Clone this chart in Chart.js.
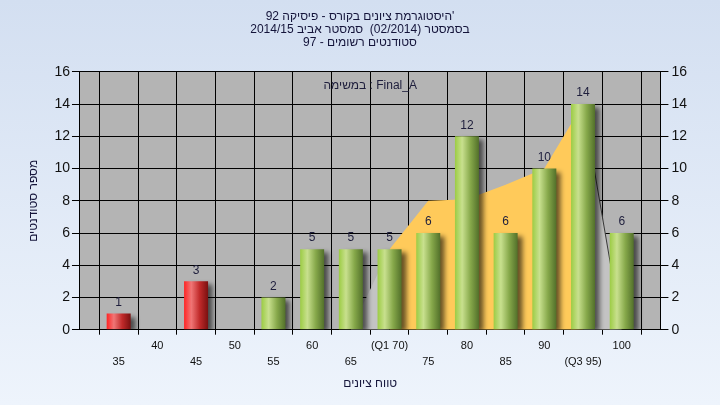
<!DOCTYPE html>
<html>
<head>
<meta charset="utf-8">
<script src="https://cdn.jsdelivr.net/npm/chart.js@4.4.0/dist/chart.umd.min.js"></script>
<style>
    html, body { margin: 0; padding: 0; background: #e4edf9; }
    canvas { display: block; }
</style>
</head>
<body>
<canvas id="gradesCanvas" width="720" height="405" dir="rtl"></canvas>
<script>
// Grade buckets and students per bucket
const grades = ['35', '40', '45', '50', '55', '60', '65', '(Q1 70)', '75', '80', '85', '90', '(Q3 95)', '100'];
const gradeValues = [35, 40, 45, 50, 55, 60, 65, 70, 75, 80, 85, 90, 95, 100];
const students = [1, 0, 3, 0, 2, 5, 5, 5, 6, 12, 6, 10, 14, 6];

// Quartile band (yellow) and whisker band (light grey)
const quartileBand = [null, null, null, null, null, null, null, 5, 8, 8.1, 9, 10, 14, null];
const whiskerBand = [null, null, null, null, null, null, 0, 5, null, null, null, null, 14, 0];

const yMax = 16;
const yStep = 2;
const passMark = 55;

const titleLines = [
    "'היסטוגרמת ציונים בקורס - פיסיקה 92",
    'בסמסטר (02/2014)  סמסטר אביב 2014/15',
    'סטודנטים רשומים - 97'
];
const taskLabel = 'במשימה : Final_A';
const xTitle = 'טווח ציונים';
const yTitle = 'מספר סטודנטים';

// Pad with an empty slot on each side (the plot leaves a full bucket of room)
const pad = arr => [null, ...arr, null];
const labels = ['', ...grades, ''].map((g, i) => {
    if (g === '') return ['', ''];
    return (i % 2 === 1) ? ['', g] : [g, ''];
});

const FONT = "'Liberation Sans', 'DejaVu Sans Condensed', 'DejaVu Sans', sans-serif";

// Cylinder-like horizontal gradient for each bar
function barGradient(context) {
    const chart = context.chart;
    const {ctx, chartArea, scales} = chart;
    const i = context.dataIndex;
    const grade = gradeValues[i - 1];
    const red = grade < passMark;
    if (!chartArea || grade === undefined) return red ? '#e02020' : '#9cc84a';
    const step = scales.x.getPixelForValue(1) - scales.x.getPixelForValue(0);
    const cx = scales.x.getPixelForValue(i);
    const half = step * 0.62 / 2;
    const g = ctx.createLinearGradient(cx - half, 0, cx + half, 0);
    if (red) {
        g.addColorStop(0, '#ff2424');
        g.addColorStop(0.3, '#f07676');
        g.addColorStop(0.65, '#c02a2a');
        g.addColorStop(1, '#7a1010');
    } else {
        g.addColorStop(0, '#9ccc44');
        g.addColorStop(0.3, '#c8e08e');
        g.addColorStop(0.65, '#86a84a');
        g.addColorStop(1, '#52702a');
    }
    return g;
}

// Background, plot area fill, bar shadows, value labels, task note
const decorPlugin = {
    id: 'decor',
    beforeDraw(chart) {
        const {ctx, chartArea, width, height} = chart;
        ctx.save();
        const bg = ctx.createLinearGradient(0, 0, 0, height);
        bg.addColorStop(0, '#d3dff1');
        bg.addColorStop(1, '#eef4fc');
        ctx.fillStyle = bg;
        ctx.fillRect(0, 0, width, height);
        ctx.fillStyle = '#b4b4b4';
        ctx.fillRect(chartArea.left, chartArea.top, chartArea.right - chartArea.left, chartArea.bottom - chartArea.top);
        ctx.restore();
    },
    beforeDatasetDraw(chart, args) {
        if (args.meta.type !== 'bar') return;
        const ctx = chart.ctx;
        ctx.save();
        ctx.shadowColor = 'rgba(0, 0, 0, 0.6)';
        ctx.shadowBlur = 5;
        ctx.shadowOffsetX = 5;
        ctx.shadowOffsetY = 3;
    },
    afterDatasetDraw(chart, args) {
        if (args.meta.type !== 'bar') return;
        chart.ctx.restore();
    },
    afterDatasetsDraw(chart) {
        const ctx = chart.ctx;
        const meta = chart.getDatasetMeta(0);
        ctx.save();
        ctx.font = '12px ' + FONT;
        ctx.fillStyle = '#1e1e3c';
        ctx.textAlign = 'center';
        ctx.textBaseline = 'middle';
        meta.data.forEach((bar, i) => {
            const v = chart.data.datasets[0].data[i];
            if (!v) return;
            ctx.fillText(String(v), bar.x, bar.y - 11);
        });
        // the task note is laid out left to right
        const area = chart.chartArea;
        ctx.direction = 'ltr';
        ctx.fillText(taskLabel, (area.left + area.right) / 2, area.top + 14);
        ctx.restore();
    }
};

const ctx = document.getElementById('gradesCanvas');

new Chart(ctx, {
    type: 'bar',
    data: {
        labels: labels,
        datasets: [
            {
                type: 'bar',
                label: 'students',
                data: pad(students),
                backgroundColor: barGradient,
                borderWidth: 0,
                barPercentage: 0.62,
                categoryPercentage: 1,
                order: 0
            },
            {
                type: 'line',
                label: 'quartiles',
                data: pad(quartileBand),
                backgroundColor: '#ffca5a',
                borderWidth: 0,
                pointRadius: 0,
                fill: 'origin',
                tension: 0,
                order: 1
            },
            {
                type: 'line',
                label: 'whiskers',
                data: pad(whiskerBand),
                backgroundColor: '#c3c3c3',
                borderWidth: 1,
                borderColor: '#3a3a3a',
                segment: {
                    borderColor: c => c.p0DataIndex >= 13 ? '#3a3a3a' : 'rgba(0,0,0,0)'
                },
                pointRadius: 0,
                fill: 'origin',
                tension: 0,
                order: 2
            }
        ]
    },
    options: {
        responsive: false,
        animation: false,
        devicePixelRatio: 1,
        layout: {
            padding: { left: 25, right: 25, top: 0, bottom: 14 }
        },
        plugins: {
            legend: { display: false },
            tooltip: { enabled: false },
            title: {
                display: true,
                text: titleLines,
                color: '#14143a',
                font: { family: FONT, size: 12, weight: 'normal', lineHeight: 1.08 },
                padding: { top: 10, bottom: 23 }
            }
        },
        scales: {
            x: {
                offset: false,
                grid: {
                    color: '#000',
                    lineWidth: 1,
                    tickLength: 5,
                    tickColor: '#000'
                },
                border: { color: '#000', width: 1 },
                ticks: {
                    autoSkip: false,
                    maxRotation: 0,
                    minRotation: 0,
                    padding: 3,
                    color: '#111',
                    font: { family: FONT, size: 11, lineHeight: 1.45 }
                },
                title: {
                    display: true,
                    text: xTitle,
                    color: '#14143a',
                    font: { family: FONT, size: 12 },
                    padding: { top: 4, bottom: 0 }
                }
            },
            y: {
                position: 'left',
                min: 0,
                max: yMax,
                ticks: {
                    stepSize: yStep,
                    padding: 2,
                    color: '#111',
                    font: { family: FONT, size: 14 }
                },
                grid: {
                    color: '#000',
                    lineWidth: 1,
                    tickLength: 8,
                    tickColor: '#000'
                },
                border: { color: '#000', width: 1 },
                title: {
                    display: true,
                    text: yTitle,
                    color: '#14143a',
                    font: { family: FONT, size: 12 },
                    padding: { top: 1, bottom: 12 }
                }
            },
            y2: {
                position: 'right',
                min: 0,
                max: yMax,
                afterFit(scale) {
                    scale.width += 5;
                },
                ticks: {
                    stepSize: yStep,
                    padding: 3,
                    color: '#111',
                    font: { family: FONT, size: 14 }
                },
                grid: {
                    drawOnChartArea: false,
                    color: '#000',
                    tickLength: 8,
                    tickColor: '#000'
                },
                border: { color: '#000', width: 1 }
            }
        }
    },
    plugins: [decorPlugin]
});
</script>
</body>
</html>
